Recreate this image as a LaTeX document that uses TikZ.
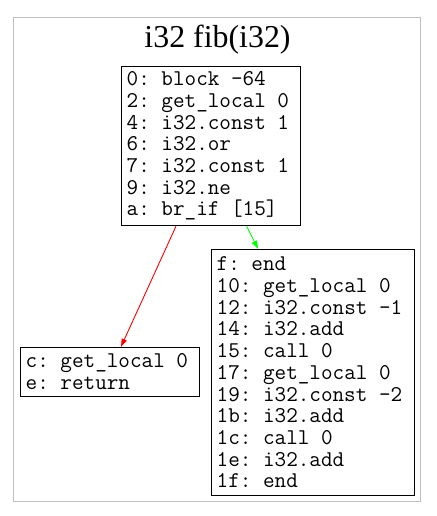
\documentclass[tikz,border=0pt]{standalone}
\usepackage{fontspec}
\setmainfont{Liberation Serif}
\usetikzlibrary{arrows.meta}
\newcommand{\codefont}{\ttfamily\fontsize{22.6}{21.8}\selectfont}
\newcommand{\sk}{\phantom{0}}
\begin{document}
\begin{tikzpicture}[x=1bp,y=-1bp,
  blockbox/.style={draw=black, line width=1bp, inner xsep=5bp, inner ysep=0pt,
    align=left, font=\codefont},
  edgearrow/.style={line width=0.9bp, -{Triangle[length=8bp,width=5.5bp]}},
  frame/.style={draw=black!25, line width=1bp}]
\useasboundingbox (0,0) rectangle (437,516);
\fill[white] (0,0) rectangle (437,516);
\node[frame, minimum width=406bp, minimum height=483bp, inner sep=0pt] (cluster) at (217,259.5) {};
\node[anchor=base, font=\fontsize{32}{36}\selectfont, inner sep=0pt] (title) at (217.5,48) {i32 fib(i32)};
\node[blockbox, text width=169bp, minimum width=179bp, minimum height=159.4bp] (A) at (211.2,146)
  {0:\sk{}block\sk{}-64\\2:\sk{}get\_local\sk{}0\\4:\sk{}i32.const\sk{}1\\6:\sk{}i32.or\\7:\sk{}i32.const\sk{}1\\9:\sk{}i32.ne\\a:\sk{}br\_if\sk{}[15]};
\node[blockbox, text width=169bp, minimum width=179bp, minimum height=49bp] (C) at (110.2,371.8)
  {c:\sk{}get\_local\sk{}0\\e:\sk{}return};
\node[blockbox, text width=193bp, minimum width=203bp, minimum height=246.4bp] (F) at (313.2,372.5)
  {f:\sk{}end\\10:\sk{}get\_local\sk{}0\\12:\sk{}i32.const\sk{}-1\\14:\sk{}i32.add\\15:\sk{}call\sk{}0\\17:\sk{}get\_local\sk{}0\\19:\sk{}i32.const\sk{}-2\\1b:\sk{}i32.add\\1c:\sk{}call\sk{}0\\1e:\sk{}i32.add\\1f:\sk{}end};
\draw[edgearrow, red] (A.south -| 176,0) -- (C.north -| 121,0);
\draw[edgearrow, green] (A.south -| 246.7,0) -- (F.north -| 258,0);
\end{tikzpicture}
\end{document}
